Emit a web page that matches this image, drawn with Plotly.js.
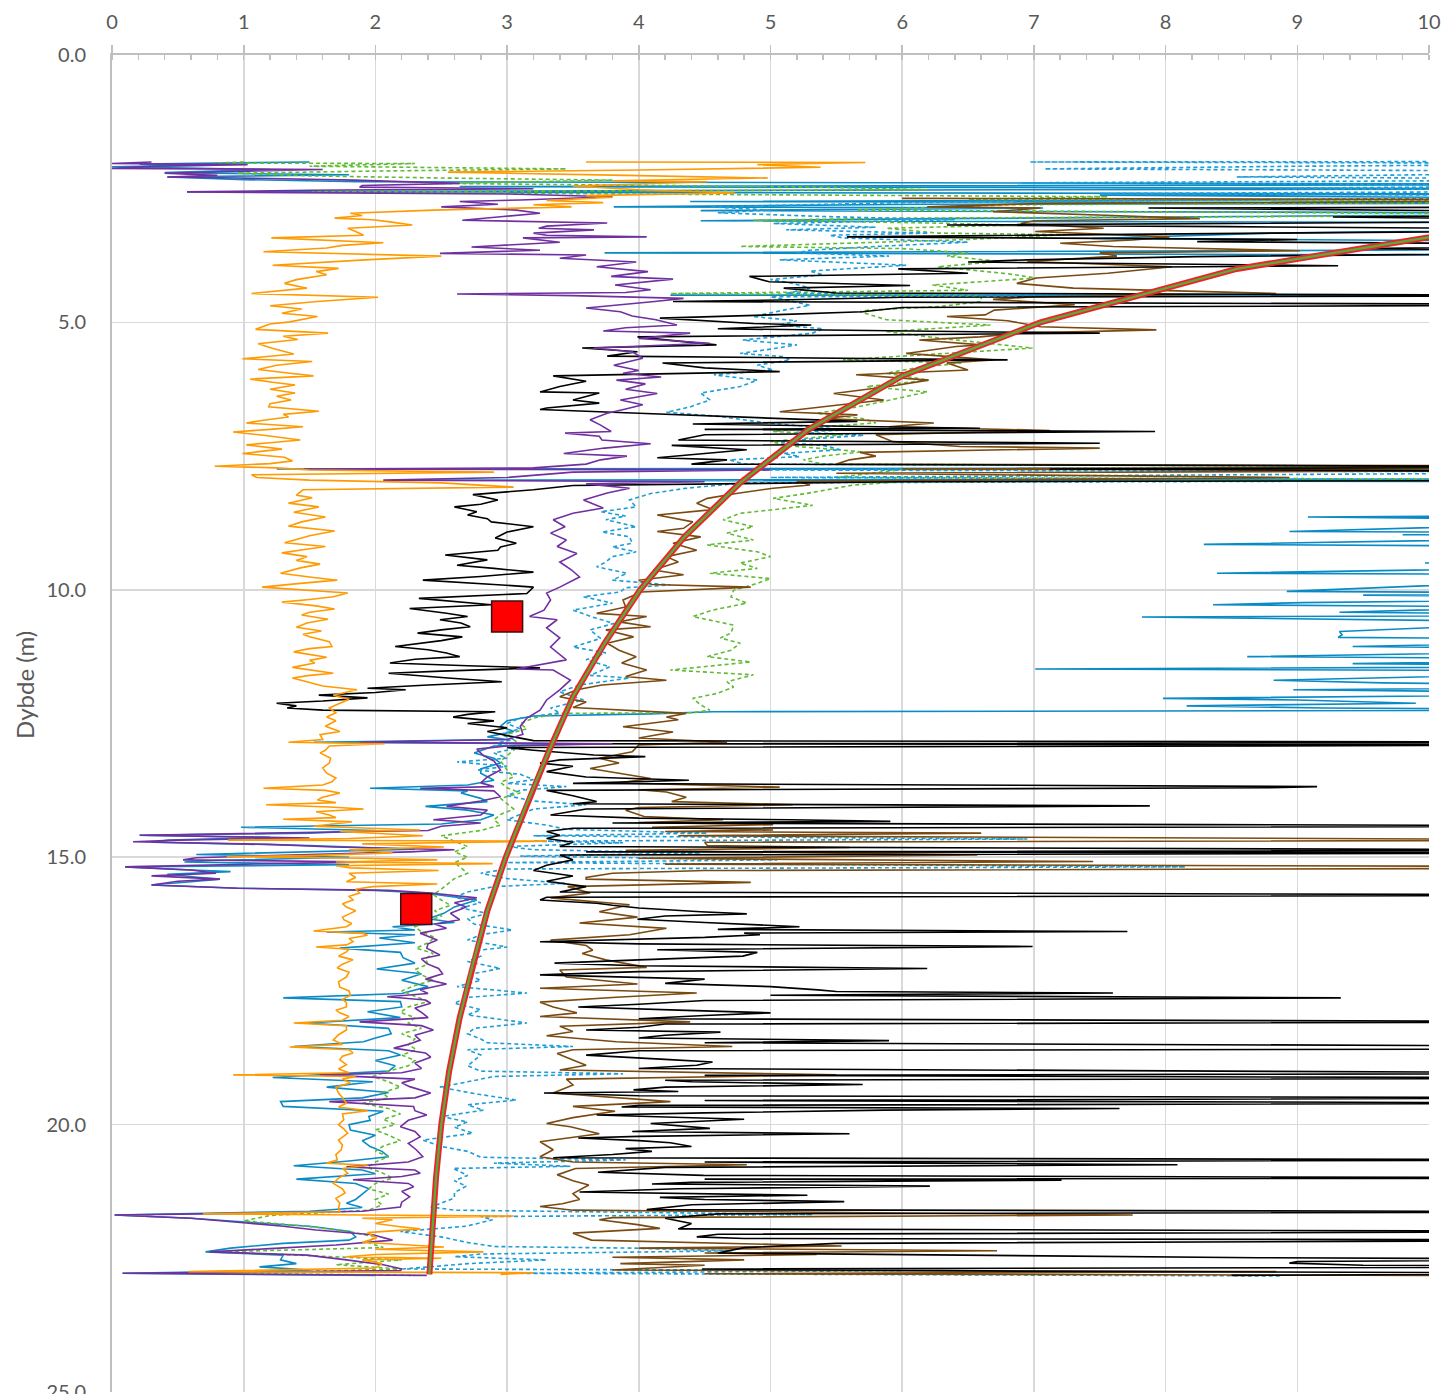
<!DOCTYPE html>
<html>
<head>
<meta charset="utf-8">
<script src="https://cdn.plot.ly/plotly-3.0.1.min.js"></script>
<style>html,body{margin:0;padding:0;background:#fff;}#chart{width:1441px;height:1394px;}</style>
</head>
<body>
<div id="chart"></div>
<script>
// ---- DATA: [depth (m), value] pairs ----
const orangeSeries = [[2.0,3.6],[2.01,5.72],[2.05,4.9],[2.1,5.38],[2.15,4.0],[2.19,2.55],[2.25,3.9],[2.3,4.98],[2.35,3.8],[2.37,4.52],[2.45,3.5],[2.52,4.0],[2.58,4.73],[2.63,3.6],[2.66,3.8],[2.72,3.3],[2.76,3.73],[2.8,3.2],[2.84,3.49],[2.9,2.44],[2.96,1.81],[3.0,1.9],[3.05,1.69],[3.08,1.98],[3.12,2.11],[3.18,2.28],[3.24,1.79],[3.3,1.85],[3.37,1.91],[3.42,1.21],[3.51,2.06],[3.56,1.75],[3.61,1.63],[3.68,1.15],[3.76,2.5],[3.83,1.92],[3.93,1.22],[3.99,1.72],[4.05,1.55],[4.11,1.63],[4.2,1.4],[4.27,1.31],[4.36,1.48],[4.46,1.06],[4.53,2.02],[4.61,1.56],[4.69,1.2],[4.75,1.44],[4.83,1.29],[4.89,1.56],[4.99,1.35],[5.03,1.2],[5.13,1.09],[5.2,1.64],[5.26,1.3],[5.32,1.41],[5.4,1.11],[5.48,1.21],[5.59,1.38],[5.68,0.99],[5.73,1.52],[5.8,1.25],[5.88,1.11],[5.95,1.35],[6.0,1.53],[6.06,1.05],[6.12,1.22],[6.17,1.39],[6.25,1.2],[6.32,1.39],[6.38,1.25],[6.45,1.36],[6.52,1.2],[6.58,1.19],[6.66,1.57],[6.72,1.3],[6.77,1.34],[6.83,1.15],[6.88,1.02],[6.95,1.45],[7.0,1.2],[7.05,0.92],[7.11,1.15],[7.2,1.43],[7.25,1.2],[7.29,1.02],[7.37,1.29],[7.45,0.99],[7.52,1.31],[7.59,1.37],[7.64,1.2],[7.69,0.78],[7.72,1.25],[7.76,1.5],[7.8,2.9],[7.85,1.06],[7.9,1.1],[7.95,1.5],[8.0,2.5],[8.08,3.05],[8.13,1.45],[8.23,1.4],[8.28,1.52],[8.38,1.34],[8.45,1.57],[8.55,1.38],[8.64,1.62],[8.73,1.44],[8.81,1.34],[8.9,1.69],[8.99,1.5],[9.06,1.4],[9.12,1.31],[9.19,1.62],[9.25,1.45],[9.31,1.29],[9.38,1.48],[9.45,1.4],[9.52,1.58],[9.59,1.43],[9.69,1.28],[9.76,1.5],[9.82,1.71],[9.88,1.43],[9.95,1.14],[10.06,1.79],[10.13,1.68],[10.18,1.5],[10.23,1.29],[10.3,1.55],[10.36,1.69],[10.42,1.5],[10.47,1.44],[10.55,1.64],[10.62,1.48],[10.7,1.4],[10.77,1.59],[10.83,1.45],[10.88,1.5],[10.97,1.65],[11.06,1.67],[11.1,1.5],[11.16,1.38],[11.26,1.63],[11.32,1.5],[11.37,1.54],[11.45,1.37],[11.56,1.68],[11.6,1.5],[11.65,1.37],[11.72,1.48],[11.8,1.6],[11.87,1.86],[11.97,1.68],[12.05,1.8],[12.12,1.73],[12.21,1.65],[12.3,1.7],[12.38,1.63],[12.45,1.7],[12.55,1.62],[12.65,1.73],[12.71,1.58],[12.8,1.6],[12.85,1.34],[12.88,2.07],[12.92,1.65],[13.0,1.62],[13.05,1.58],[13.15,1.66],[13.24,1.65],[13.33,1.6],[13.43,1.63],[13.52,1.7],[13.59,1.67],[13.65,1.6],[13.71,1.15],[13.75,1.62],[13.8,1.73],[13.88,1.6],[13.93,1.56],[13.98,1.7],[14.02,1.17],[14.06,1.65],[14.1,1.91],[14.15,1.55],[14.21,1.65],[14.26,1.7],[14.29,1.3],[14.34,1.82],[14.42,1.53],[14.49,2.34],[14.52,1.73],[14.6,2.36],[14.65,1.8],[14.68,0.88],[14.7,3.3],[14.75,1.9],[14.81,2.52],[14.86,1.8],[14.92,2.13],[14.97,1.5],[14.99,0.87],[15.02,1.9],[15.05,2.47],[15.09,1.7],[15.12,2.89],[15.16,1.7],[15.2,1.81],[15.25,2.48],[15.3,1.8],[15.38,1.85],[15.46,1.78],[15.5,2.47],[15.55,1.98],[15.6,1.85],[15.67,1.88],[15.73,1.8],[15.8,1.83],[15.87,1.75],[15.93,1.78],[16.0,1.85],[16.05,1.81],[16.12,1.75],[16.17,1.76],[16.24,1.82],[16.3,1.78],[16.38,1.53],[16.42,1.9],[16.46,1.94],[16.52,1.8],[16.58,1.83],[16.64,1.78],[16.68,1.55],[16.72,1.8],[16.77,1.78],[16.85,1.72],[16.92,1.83],[17.0,1.75],[17.07,1.71],[17.15,1.8],[17.24,1.78],[17.33,1.72],[17.43,1.73],[17.5,1.8],[17.58,1.81],[17.66,1.75],[17.72,1.78],[17.8,1.78],[17.86,1.7],[17.91,1.73],[17.98,1.8],[18.05,1.75],[18.1,1.38],[18.15,1.78],[18.23,1.78],[18.32,1.72],[18.42,1.68],[18.5,1.75],[18.55,1.35],[18.6,1.8],[18.66,1.83],[18.72,1.75],[18.79,1.73],[18.88,1.78],[18.96,1.72],[19.03,1.8],[19.07,0.92],[19.1,1.85],[19.15,1.75],[19.22,1.81],[19.3,1.7],[19.41,1.72],[19.5,1.75],[19.6,1.78],[19.67,1.72],[19.74,1.94],[19.8,1.75],[19.91,1.76],[20.0,1.72],[20.08,1.76],[20.16,1.79],[20.29,1.72],[20.38,1.75],[20.47,1.74],[20.56,1.7],[20.66,1.71],[20.72,1.63],[20.76,1.94],[20.82,1.75],[20.91,1.79],[21.0,1.72],[21.1,1.68],[21.2,1.75],[21.28,1.77],[21.38,1.7],[21.47,1.73],[21.56,1.72],[21.63,1.73],[21.67,0.69],[21.71,3.05],[21.75,1.9],[21.78,2.13],[21.85,2.0],[21.91,2.19],[21.95,2.34],[22.02,1.94],[22.12,2.01],[22.2,1.9],[22.29,2.52],[22.33,2.0],[22.38,2.82],[22.43,2.0],[22.47,1.78],[22.5,2.5],[22.53,1.9],[22.6,2.05],[22.68,2.0],[22.75,0.58],[22.77,3.2],[22.8,2.95]];

const purpleSeries = [[2.0,0.3],[2.03,0.0],[2.05,1.03],[2.08,0.3],[2.12,0.0],[2.14,1.6],[2.18,0.9],[2.21,0.4],[2.25,0.8],[2.28,0.42],[2.3,0.95],[2.34,1.83],[2.4,2.64],[2.44,1.9],[2.47,1.88],[2.5,3.2],[2.53,1.5],[2.56,0.57],[2.6,3.0],[2.65,3.8],[2.71,3.1],[2.74,2.64],[2.79,2.93],[2.84,2.5],[2.9,3.07],[2.96,3.25],[3.02,2.97],[3.09,2.66],[3.14,3.76],[3.2,3.3],[3.24,3.24],[3.27,3.66],[3.33,3.2],[3.37,3.3],[3.4,4.06],[3.42,3.12],[3.5,3.4],[3.59,2.73],[3.65,3.25],[3.71,2.49],[3.74,3.6],[3.8,3.4],[3.87,3.98],[3.96,3.68],[4.05,4.07],[4.14,3.79],[4.19,4.26],[4.3,3.82],[4.39,4.09],[4.44,3.9],[4.47,2.62],[4.5,3.5],[4.55,4.34],[4.61,4.12],[4.73,3.6],[4.8,3.86],[4.88,3.95],[4.95,4.13],[5.05,4.29],[5.1,3.9],[5.16,3.73],[5.2,4.39],[5.3,4.0],[5.39,4.54],[5.48,3.66],[5.55,3.95],[5.67,4.03],[5.8,3.81],[5.9,4.0],[5.95,3.88],[6.02,4.17],[6.08,3.83],[6.15,4.05],[6.25,3.9],[6.33,4.14],[6.45,3.86],[6.54,4.03],[6.62,3.9],[6.7,3.76],[6.82,3.63],[6.92,3.71],[7.04,3.79],[7.07,3.44],[7.13,3.7],[7.2,3.72],[7.27,4.09],[7.35,3.74],[7.45,3.43],[7.5,3.91],[7.57,3.71],[7.65,3.6],[7.72,3.2],[7.74,1.46],[7.76,5.0],[7.8,3.5],[7.9,3.0],[7.95,2.06],[7.98,4.5],[8.02,3.6],[8.1,3.93],[8.19,3.76],[8.32,3.58],[8.47,3.73],[8.57,3.5],[8.69,3.35],[8.82,3.44],[8.94,3.33],[9.07,3.45],[9.19,3.38],[9.32,3.53],[9.48,3.4],[9.63,3.49],[9.76,3.55],[9.95,3.4],[10.06,3.3],[10.19,3.33],[10.38,3.28],[10.5,3.17],[10.56,3.38],[10.71,3.3],[10.9,3.4],[11.07,3.33],[11.31,3.45],[11.48,3.07],[11.5,3.35],[11.69,3.48],[11.87,3.4],[12.06,3.3],[12.25,3.25],[12.4,3.15],[12.55,3.1],[12.7,3.12],[12.8,3.0],[12.85,1.88],[12.88,3.8],[12.92,3.0],[12.98,2.77],[13.1,2.82],[13.2,2.9],[13.37,2.95],[13.5,2.85],[13.61,2.8],[13.68,2.9],[13.71,2.34],[13.76,2.9],[13.87,2.95],[13.95,2.8],[14.05,2.54],[14.12,2.85],[14.21,2.8],[14.3,2.44],[14.36,2.8],[14.42,2.5],[14.5,2.4],[14.52,1.91],[14.59,0.21],[14.64,1.5],[14.68,0.5],[14.71,0.16],[14.76,1.2],[14.81,1.68],[14.86,2.6],[14.9,2.26],[14.95,1.5],[15.01,0.64],[15.05,0.54],[15.09,2.0],[15.12,1.2],[15.18,0.1],[15.24,0.6],[15.3,0.79],[15.35,0.3],[15.41,0.82],[15.45,0.5],[15.52,0.3],[15.58,0.95],[15.62,2.1],[15.67,2.42],[15.76,2.77],[15.85,2.6],[15.93,2.69],[16.05,2.57],[16.17,2.64],[16.25,2.45],[16.33,2.54],[16.42,2.34],[16.55,2.47],[16.62,2.4],[16.7,2.39],[16.83,2.49],[16.9,2.35],[16.99,2.39],[17.08,2.48],[17.18,2.51],[17.28,2.38],[17.37,2.54],[17.48,2.34],[17.55,2.4],[17.61,2.09],[17.67,2.38],[17.73,2.42],[17.82,2.3],[17.92,2.36],[18.0,2.4],[18.08,1.88],[18.15,2.35],[18.23,2.44],[18.33,2.3],[18.42,2.34],[18.5,2.25],[18.57,2.14],[18.66,2.38],[18.74,2.42],[18.85,2.3],[18.95,2.35],[19.03,2.2],[19.07,1.58],[19.15,2.3],[19.22,2.2],[19.29,2.26],[19.41,2.42],[19.5,2.3],[19.57,1.65],[19.66,2.29],[19.74,2.3],[19.82,2.39],[19.92,2.25],[20.04,2.19],[20.13,2.3],[20.23,2.34],[20.35,2.25],[20.47,2.31],[20.6,2.36],[20.7,2.25],[20.79,1.78],[20.85,2.3],[20.91,2.34],[20.97,2.2],[21.03,1.83],[21.1,2.25],[21.16,2.29],[21.25,2.2],[21.35,2.26],[21.45,2.2],[21.54,2.19],[21.62,1.9],[21.66,1.0],[21.69,0.02],[21.75,0.6],[21.84,1.02],[21.9,1.3],[21.97,1.55],[22.06,1.98],[22.16,2.13],[22.25,1.7],[22.32,1.2],[22.38,0.74],[22.44,1.48],[22.53,1.78],[22.62,2.06],[22.7,2.2],[22.73,2.19],[22.78,0.08],[22.82,2.39]];

const blackSeries = [[2.84,12],[2.86,7.87],[2.92,10.5],[2.97,12],[3.03,9.27],[3.1,12],[3.18,6.34],[3.21,8.47],[3.27,12],[3.33,8.79],[3.4,5.58],[3.45,9.0],[3.49,8.24],[3.55,12],[3.62,9.5],[3.68,12],[3.77,8.22],[3.83,6.95],[3.87,6.5],[3.94,9.31],[4.0,5.97],[4.08,6.5],[4.14,4.84],[4.24,4.99],[4.31,6.06],[4.36,5.1],[4.45,5.5],[4.5,12],[4.53,6.0],[4.58,5.07],[4.61,4.26],[4.67,12],[4.72,6.0],[4.8,5.7],[4.86,5.0],[4.92,4.16],[5.02,4.87],[5.05,5.31],[5.12,4.6],[5.2,7.5],[5.27,3.99],[5.35,4.3],[5.42,4.59],[5.48,3.57],[5.55,3.99],[5.63,3.76],[5.7,6.8],[5.76,4.18],[5.85,4.5],[5.92,5.07],[6.0,3.35],[6.1,3.6],[6.2,3.4],[6.3,3.25],[6.32,3.7],[6.45,3.5],[6.51,3.7],[6.6,3.3],[6.63,3.25],[6.7,4.0],[6.85,5.66],[6.9,4.41],[6.98,6.59],[7.0,4.5],[7.04,7.92],[7.1,4.5],[7.2,4.3],[7.26,7.5],[7.3,4.25],[7.38,4.82],[7.45,4.5],[7.53,4.14],[7.57,4.67],[7.65,4.4],[7.7,12],[7.74,7.12],[7.8,12],[7.95,12],[7.98,6.0],[8.05,3.5],[8.13,3.2],[8.22,2.74],[8.32,2.93],[8.4,2.8],[8.45,2.6],[8.54,2.77],[8.6,2.7],[8.67,2.85],[8.73,2.88],[8.82,3.2],[8.92,3.0],[9.03,2.91],[9.13,3.07],[9.2,2.95],[9.26,2.93],[9.35,2.53],[9.44,2.85],[9.54,2.62],[9.6,2.9],[9.67,3.2],[9.75,2.8],[9.82,2.36],[9.9,2.9],[9.95,3.2],[10.07,3.15],[10.16,2.33],[10.28,2.88],[10.35,2.26],[10.44,2.54],[10.5,2.7],[10.56,2.49],[10.62,2.65],[10.69,2.72],[10.75,2.5],[10.81,2.32],[10.88,2.66],[10.95,2.5],[11.06,2.15],[11.12,2.4],[11.18,2.54],[11.25,2.64],[11.3,2.3],[11.37,2.11],[11.42,2.7],[11.46,3.25],[11.52,2.5],[11.56,2.1],[11.65,2.55],[11.72,2.96],[11.78,2.4],[11.84,1.94],[11.87,2.23],[11.92,2.0],[11.97,1.57],[12.02,1.94],[12.08,1.6],[12.12,1.25],[12.17,1.4],[12.21,1.33],[12.25,1.6],[12.28,2.91],[12.33,2.7],[12.38,2.59],[12.45,2.9],[12.5,2.7],[12.58,3.0],[12.65,2.85],[12.75,3.05],[12.82,3.2],[12.85,12],[12.88,3.5],[12.9,12],[12.95,3.0],[13.0,3.2],[13.09,3.66],[13.12,4.05],[13.18,3.4],[13.24,3.25],[13.3,3.5],[13.4,3.3],[13.5,3.6],[13.56,4.38],[13.62,3.5],[13.68,9.15],[13.7,8.78],[13.75,3.3],[13.85,3.5],[13.96,3.68],[14.0,3.5],[14.04,7.88],[14.1,3.6],[14.21,3.33],[14.27,4.0],[14.3,5.15],[14.33,5.91],[14.36,3.8],[14.39,8.26],[14.42,12],[14.46,3.5],[14.52,3.3],[14.59,3.4],[14.65,3.3],[14.72,3.5],[14.8,3.4],[14.87,12],[14.9,3.6],[14.92,12],[14.96,3.4],[15.05,3.5],[15.15,3.3],[15.25,3.2],[15.35,3.5],[15.45,3.3],[15.55,3.6],[15.65,3.4],[15.71,12],[15.75,3.3],[15.8,3.25],[15.86,3.68],[15.9,3.8],[15.95,4.0],[16.02,4.47],[16.06,4.82],[16.1,4.2],[16.16,3.99],[16.22,4.5],[16.3,5.22],[16.35,4.6],[16.39,7.71],[16.42,4.8],[16.45,4.92],[16.5,4.5],[16.58,3.25],[16.62,4.0],[16.67,6.99],[16.73,4.14],[16.78,4.9],[16.85,4.79],[16.92,4.0],[16.98,3.36],[17.03,4.0],[17.08,6.19],[17.14,4.0],[17.2,3.25],[17.28,4.5],[17.36,4.2],[17.42,5.0],[17.48,5.36],[17.51,5.5],[17.54,7.6],[17.58,5.0],[17.63,9.33],[17.68,4.5],[17.75,4.0],[17.8,3.54],[17.86,4.3],[17.91,5.0],[17.96,4.5],[18.02,4.0],[18.08,12],[18.12,4.2],[18.18,4.0],[18.23,3.6],[18.27,4.62],[18.33,4.2],[18.38,4.0],[18.43,5.9],[18.47,4.5],[18.54,12],[18.58,12],[18.62,4.0],[18.7,3.6],[18.78,4.2],[18.83,4.56],[18.89,4.44],[18.95,4.0],[19.04,12],[19.08,4.5],[19.13,12],[19.17,4.2],[19.2,4.4],[19.25,5.7],[19.3,4.2],[19.35,3.96],[19.38,4.3],[19.41,3.28],[19.46,4.0],[19.5,12],[19.55,4.5],[19.6,12],[19.64,4.0],[19.67,3.87],[19.7,7.65],[19.73,5.86],[19.78,4.5],[19.82,3.68],[19.9,4.8],[19.98,4.09],[20.07,4.54],[20.13,3.95],[20.17,5.6],[20.22,4.0],[20.25,3.54],[20.3,4.0],[20.34,4.24],[20.41,4.4],[20.45,3.9],[20.5,4.1],[20.56,3.8],[20.62,3.35],[20.66,12],[20.7,4.5],[20.75,8.09],[20.8,4.2],[20.89,3.69],[20.95,4.49],[21.0,12],[21.02,4.5],[21.04,7.21],[21.08,4.4],[21.11,4.1],[21.15,6.21],[21.2,4.3],[21.26,3.55],[21.32,5.28],[21.36,4.16],[21.4,4.5],[21.44,5.56],[21.5,4.4],[21.59,4.06],[21.63,12],[21.67,4.6],[21.75,4.2],[21.85,4.4],[21.95,4.3],[22.0,12],[22.05,4.6],[22.1,4.44],[22.13,4.8],[22.16,12],[22.22,5.5],[22.3,4.8],[22.4,4.6],[22.49,8.7],[22.52,12],[22.56,9.0],[22.59,8.94],[22.63,9.5],[22.66,12],[22.7,4.48],[22.74,6.88],[22.78,12],[22.82,8.5]];

const blueDashSeries = [[1.99,12],[2.0,6.97],[2.03,12],[2.08,9.0],[2.13,7.08],[2.18,12],[2.28,8.54],[2.33,12],[2.39,6.9],[2.44,12],[2.49,8.74],[2.54,12],[2.59,7.5],[2.64,12],[2.7,9.0],[2.76,6.0],[2.84,4.54],[2.9,5.0],[2.95,4.6],[3.02,5.4],[3.08,6.4],[3.15,5.02],[3.22,5.8],[3.27,5.12],[3.33,6.2],[3.37,5.45],[3.42,5.55],[3.5,6.5],[3.58,5.8],[3.65,5.3],[3.7,5.2],[3.76,5.9],[3.83,5.07],[3.93,6.03],[4.04,5.3],[4.11,5.4],[4.2,5.0],[4.27,5.17],[4.36,5.3],[4.46,5.12],[4.5,9.0],[4.52,5.0],[4.58,5.12],[4.68,5.3],[4.77,5.1],[4.89,4.87],[4.97,5.2],[5.05,5.07],[5.12,5.4],[5.2,5.32],[5.28,5.0],[5.33,4.79],[5.42,5.2],[5.5,5.0],[5.58,4.77],[5.64,5.1],[5.7,5.15],[5.8,4.9],[5.89,5.02],[5.98,4.57],[6.08,4.9],[6.2,4.77],[6.32,4.47],[6.45,4.54],[6.58,4.39],[6.68,4.21],[6.76,4.62],[6.88,4.97],[6.95,5.3],[7.01,5.58],[7.05,5.2],[7.11,5.71],[7.18,5.3],[7.24,5.07],[7.3,5.4],[7.38,5.53],[7.45,5.1],[7.51,5.22],[7.57,4.69],[7.65,4.8],[7.7,12],[7.72,7.98],[7.76,5.0],[7.8,12],[7.9,5.0],[7.95,12],[8.0,4.8],[8.1,4.36],[8.2,4.09],[8.32,3.93],[8.45,3.98],[8.54,3.71],[8.62,3.9],[8.69,3.75],[8.82,3.98],[8.92,3.72],[9.01,3.93],[9.13,3.95],[9.2,3.8],[9.29,3.98],[9.38,3.8],[9.48,3.75],[9.57,3.68],[9.69,3.91],[9.82,3.8],[9.91,4.24],[9.96,3.9],[10.04,3.86],[10.13,3.58],[10.25,3.8],[10.38,3.5],[10.51,3.65],[10.63,3.81],[10.75,3.63],[10.91,3.71],[11.07,3.5],[11.18,3.75],[11.31,3.6],[11.44,3.78],[11.6,3.63],[11.65,3.93],[11.78,3.55],[11.91,3.4],[12.06,3.58],[12.21,3.33],[12.3,3.4],[12.4,3.1],[12.5,3.0],[12.6,3.1],[12.7,2.95],[12.8,3.05],[12.87,2.9],[12.95,3.1],[13.05,2.9],[13.15,3.0],[13.22,2.62],[13.3,3.0],[13.37,2.77],[13.45,3.1],[13.55,3.2],[13.62,3.0],[13.68,3.45],[13.75,3.1],[13.85,3.0],[13.95,3.2],[14.02,3.6],[14.1,3.2],[14.2,3.1],[14.3,3.0],[14.4,3.3],[14.48,3.45],[14.55,4.52],[14.6,3.2],[14.66,6.95],[14.7,3.2],[14.73,3.88],[14.8,3.0],[14.86,3.2],[14.92,4.47],[14.98,3.1],[15.05,5.05],[15.1,3.0],[15.18,8.15],[15.22,3.0],[15.3,2.8],[15.4,3.0],[15.49,3.44],[15.55,2.9],[15.65,2.7],[15.75,2.6],[15.85,2.8],[15.95,2.65],[16.05,2.85],[16.15,2.7],[16.25,2.75],[16.36,3.04],[16.45,2.8],[16.55,2.7],[16.68,3.0],[16.75,2.75],[16.85,2.8],[16.95,2.7],[17.08,2.95],[17.2,2.7],[17.3,2.8],[17.42,2.62],[17.54,3.15],[17.62,2.7],[17.73,2.6],[17.85,2.8],[17.95,2.7],[18.1,3.15],[18.2,2.75],[18.3,2.7],[18.4,2.8],[18.47,2.85],[18.54,3.5],[18.6,2.7],[18.7,2.8],[18.8,2.75],[18.9,2.7],[19.0,2.8],[19.05,3.88],[19.1,2.9],[19.2,2.7],[19.3,2.49],[19.42,2.75],[19.54,3.07],[19.63,2.7],[19.73,2.82],[19.85,2.5],[19.95,2.7],[20.05,2.6],[20.16,2.74],[20.29,2.36],[20.41,2.5],[20.5,2.7],[20.61,2.8],[20.66,3.9],[20.72,2.9],[20.78,3.48],[20.82,2.59],[20.95,2.7],[21.05,2.6],[21.15,2.69],[21.27,2.6],[21.37,2.6],[21.47,2.5],[21.54,2.42],[21.6,2.6],[21.68,5.32],[21.72,2.8],[21.78,2.89],[21.9,2.69],[22.0,2.19],[22.1,2.5],[22.2,2.69],[22.28,2.9],[22.31,3.96],[22.36,4.71],[22.42,2.8],[22.47,2.6],[22.53,3.3],[22.6,2.7],[22.7,2.21],[22.73,6.0],[22.78,3.0],[22.83,8.87]];

const brownSeries = [[2.68,6.0],[2.71,12],[2.78,7.0],[2.84,6.19],[2.86,7.05],[2.93,6.69],[3.0,7.6],[3.06,8.26],[3.1,7.0],[3.15,6.9],[3.24,7.53],[3.3,7.01],[3.4,8.03],[3.46,7.75],[3.52,7.2],[3.58,7.6],[3.66,9.02],[3.7,7.5],[3.76,7.63],[3.86,6.95],[3.96,8.05],[4.08,7.56],[4.17,7.02],[4.27,6.87],[4.36,7.3],[4.46,8.84],[4.52,7.0],[4.57,6.69],[4.67,7.31],[4.77,6.7],[4.86,6.63],[4.89,6.34],[4.97,6.8],[5.08,7.05],[5.14,7.93],[5.2,6.9],[5.27,6.59],[5.33,6.13],[5.42,6.6],[5.45,6.41],[5.58,6.03],[5.7,6.69],[5.76,6.34],[5.89,6.5],[5.98,5.65],[6.08,6.2],[6.2,5.9],[6.33,5.48],[6.45,5.86],[6.55,5.5],[6.67,5.07],[6.73,5.66],[6.8,5.4],[6.88,6.24],[6.95,5.9],[7.02,7.12],[7.1,5.8],[7.23,5.93],[7.32,6.44],[7.35,7.5],[7.43,5.68],[7.5,5.8],[7.57,5.6],[7.65,5.5],[7.69,12],[7.74,6.0],[7.76,12],[7.82,5.5],[7.9,8.94],[7.93,7.45],[7.97,5.2],[8.04,5.3],[8.1,5.02],[8.2,4.74],[8.29,4.52],[8.38,4.44],[8.5,4.56],[8.6,4.14],[8.73,4.41],[8.85,4.34],[8.91,4.14],[9.01,4.47],[9.13,4.26],[9.26,4.44],[9.38,4.21],[9.48,4.3],[9.63,4.11],[9.72,4.34],[9.82,4.0],[9.9,4.1],[9.95,4.85],[10.04,4.02],[10.19,3.88],[10.32,3.9],[10.44,3.68],[10.5,4.06],[10.6,3.85],[10.69,4.09],[10.75,3.75],[10.88,3.96],[11.0,3.76],[11.13,3.85],[11.25,3.98],[11.37,3.87],[11.5,4.06],[11.62,3.9],[11.69,4.21],[11.78,3.72],[11.87,3.53],[12.0,3.4],[12.1,3.6],[12.2,3.5],[12.31,4.36],[12.38,4.21],[12.43,4.3],[12.56,3.88],[12.66,4.26],[12.77,4.0],[12.85,4.67],[12.9,4.0],[13.03,3.95],[13.15,3.7],[13.24,3.85],[13.34,3.63],[13.43,3.85],[13.53,4.09],[13.61,3.85],[13.69,5.07],[13.74,4.0],[13.78,4.21],[13.88,4.36],[13.96,4.25],[14.02,5.17],[14.07,4.0],[14.12,3.9],[14.24,4.04],[14.3,4.64],[14.35,4.0],[14.39,5.02],[14.44,4.1],[14.49,5.02],[14.52,4.2],[14.55,6.6],[14.6,4.3],[14.68,12],[14.72,4.5],[14.78,4.52],[14.82,5.6],[14.87,3.9],[14.96,6.57],[15.02,4.0],[15.08,7.45],[15.13,4.2],[15.18,12],[15.2,12],[15.25,4.5],[15.3,3.8],[15.38,3.6],[15.41,3.6],[15.47,4.85],[15.55,3.46],[15.67,3.63],[15.76,3.33],[15.89,3.93],[16.02,3.7],[16.12,3.99],[16.23,3.55],[16.33,4.21],[16.45,3.93],[16.55,3.33],[16.65,3.6],[16.74,3.65],[16.8,3.57],[16.92,3.75],[17.06,4.06],[17.11,3.4],[17.24,3.45],[17.37,3.99],[17.45,3.25],[17.54,4.44],[17.62,3.83],[17.71,3.25],[17.8,3.35],[17.91,3.53],[17.98,3.25],[18.08,4.39],[18.16,3.4],[18.26,3.5],[18.34,3.3],[18.45,3.83],[18.54,4.71],[18.6,3.5],[18.67,3.38],[18.79,3.5],[18.89,3.6],[18.98,3.4],[19.07,5.5],[19.15,3.45],[19.26,3.5],[19.41,3.35],[19.57,4.24],[19.66,3.5],[19.75,3.82],[19.87,3.5],[19.98,3.3],[20.04,3.48],[20.17,3.7],[20.32,3.25],[20.47,3.35],[20.6,3.25],[20.7,3.5],[20.75,4.82],[20.82,3.52],[20.94,3.38],[21.05,3.5],[21.13,3.62],[21.29,3.5],[21.4,3.55],[21.48,3.42],[21.53,3.25],[21.6,3.5],[21.69,7.75],[21.74,3.8],[21.78,3.7],[21.87,3.99],[21.94,4.16],[22.03,3.5],[22.16,3.64],[22.27,5.54],[22.31,4.0],[22.36,6.72],[22.4,4.5],[22.43,5.35],[22.48,3.8],[22.53,4.8],[22.6,3.86],[22.63,4.5],[22.72,3.8],[22.75,8.84],[22.79,4.5],[22.83,12]];

const greenDashSeries = [[2.0,1.0],[2.02,0.77],[2.03,2.3],[2.08,1.5],[2.13,3.45],[2.17,2.0],[2.21,0.95],[2.26,1.5],[2.3,2.5],[2.34,3.8],[2.4,2.5],[2.47,5.38],[2.52,6.19],[2.56,1.52],[2.6,4.0],[2.65,7.56],[2.7,6.5],[2.74,12],[2.8,6.8],[2.9,5.65],[2.99,12],[3.05,6.0],[3.09,4.87],[3.14,6.2],[3.18,6.87],[3.24,5.88],[3.33,6.27],[3.36,7.24],[3.45,6.5],[3.58,4.77],[3.62,6.0],[3.7,6.5],[3.76,6.34],[3.86,6.74],[3.96,6.27],[4.09,6.8],[4.17,7.02],[4.3,6.23],[4.4,6.5],[4.46,4.24],[4.5,6.6],[4.61,6.6],[4.7,6.3],[4.77,5.75],[4.8,5.68],[4.95,5.88],[5.05,6.67],[5.17,5.88],[5.3,6.3],[5.48,6.99],[5.6,6.2],[5.7,5.55],[5.76,6.45],[5.85,6.1],[5.95,5.88],[6.08,6.2],[6.2,5.73],[6.3,6.19],[6.45,5.91],[6.58,5.66],[6.7,5.35],[6.8,5.7],[6.88,5.8],[6.95,5.4],[7.04,5.02],[7.1,5.55],[7.23,5.0],[7.32,5.2],[7.42,5.7],[7.5,5.4],[7.57,5.25],[7.65,5.4],[7.71,12],[7.75,6.0],[7.9,5.5],[7.94,12],[7.98,6.0],[8.04,5.63],[8.2,5.27],[8.29,5.02],[8.42,5.32],[8.48,5.1],[8.57,4.77],[8.69,4.64],[8.82,4.87],[8.94,4.67],[9.07,4.87],[9.16,4.52],[9.29,4.9],[9.38,5.0],[9.5,4.77],[9.6,4.9],[9.69,4.54],[9.79,5.0],[9.88,4.9],[10.01,4.72],[10.13,4.7],[10.25,4.82],[10.38,4.56],[10.5,4.41],[10.66,4.72],[10.81,4.7],[10.9,4.62],[11.0,4.77],[11.13,4.7],[11.25,4.52],[11.35,4.85],[11.5,4.24],[11.59,4.87],[11.72,4.67],[11.82,4.72],[11.94,4.59],[12.03,4.41],[12.15,4.47],[12.25,4.54],[12.3,4.4],[12.31,3.4],[12.4,3.2],[12.5,3.1],[12.6,3.15],[12.7,3.0],[12.8,3.05],[12.9,3.1],[13.0,3.05],[13.1,3.0],[13.2,2.95],[13.37,3.0],[13.5,3.05],[13.6,2.95],[13.7,3.0],[13.8,3.1],[13.9,2.95],[14.0,3.0],[14.1,3.05],[14.2,2.95],[14.3,2.9],[14.4,2.95],[14.5,2.8],[14.6,2.5],[14.7,2.6],[14.8,2.7],[14.9,2.6],[15.0,2.7],[15.1,2.6],[15.2,2.65],[15.3,2.7],[15.4,2.6],[15.5,2.55],[15.6,2.5],[15.7,2.44],[15.8,2.5],[15.9,2.57],[16.0,2.45],[16.1,2.5],[16.2,2.4],[16.3,2.3],[16.4,2.35],[16.5,2.45],[16.6,2.4],[16.7,2.31],[16.8,2.44],[16.9,2.38],[17.0,2.4],[17.1,2.3],[17.2,2.35],[17.3,2.44],[17.4,2.3],[17.5,2.2],[17.6,2.3],[17.7,2.4],[17.8,2.25],[17.9,2.19],[18.0,2.3],[18.1,2.25],[18.2,2.35],[18.3,2.2],[18.4,2.3],[18.5,2.25],[18.6,2.31],[18.7,2.2],[18.8,2.3],[18.9,2.25],[19.0,2.1],[19.1,1.98],[19.2,2.1],[19.3,2.19],[19.4,2.05],[19.5,2.1],[19.6,1.9],[19.7,2.1],[19.8,2.19],[19.9,2.06],[20.0,2.15],[20.1,2.0],[20.2,2.1],[20.3,2.19],[20.4,2.06],[20.5,2.0],[20.6,2.1],[20.7,2.0],[20.8,1.94],[20.9,2.05],[21.0,2.13],[21.1,2.0],[21.2,1.95],[21.3,2.1],[21.4,2.0],[21.5,2.05],[21.6,1.95],[21.7,1.2],[21.8,1.0],[21.9,1.48],[22.0,1.8],[22.1,2.0],[22.2,1.94],[22.3,2.06],[22.38,0.8],[22.45,1.5],[22.53,2.2],[22.62,1.7],[22.7,2.2],[22.78,0.9],[22.82,2.3]];

const blueSeries = [[2.0,1.5],[2.04,0.21],[2.06,0.77],[2.09,0.0],[2.14,1.2],[2.2,0.4],[2.24,1.8],[2.28,0.42],[2.33,1.0],[2.37,1.86],[2.42,12],[2.46,2.64],[2.5,12],[2.52,6.86],[2.56,0.57],[2.6,12],[2.62,7.5],[2.69,12],[2.74,4.39],[2.77,12],[2.79,6.13],[2.84,3.81],[2.86,7.07],[2.91,4.47],[2.96,12],[3.06,6.31],[3.1,4.47],[3.14,12],[3.2,12],[3.24,12],[3.33,8.82],[3.43,7.44],[3.5,12],[3.63,12],[3.7,3.74],[3.75,12],[4.48,12],[4.49,4.24],[4.51,12],[7.72,12],[7.74,1.25],[7.76,12],[7.93,12],[7.95,2.38],[7.98,12],[8.6,12],[8.64,9.08],[8.7,12],[8.91,8.94],[8.94,12],[8.97,9.8],[9.0,12],[9.15,8.29],[9.2,12],[9.5,9.97],[9.55,12],[9.69,8.39],[9.72,12],[10.03,8.92],[10.07,12],[10.1,9.5],[10.16,12],[10.24,9.04],[10.28,8.36],[10.34,12],[10.38,9.91],[10.42,9.32],[10.47,12],[10.51,7.82],[10.58,10.3],[10.66,12],[10.71,10.0],[10.78,9.32],[10.84,9.34],[10.89,9.31],[10.93,12],[11.06,9.42],[11.12,12],[11.25,8.62],[11.3,12],[11.38,9.42],[11.43,12],[11.48,7.01],[11.52,12],[11.69,8.82],[11.74,9.65],[11.81,12],[11.87,8.97],[11.94,12],[12.03,7.98],[12.06,9.0],[12.12,9.9],[12.17,8.16],[12.21,9.2],[12.25,12],[12.28,4.56],[12.32,4.09],[12.36,3.2],[12.45,3.0],[12.55,2.95],[12.65,3.05],[12.75,2.85],[12.8,3.0],[12.85,1.53],[12.88,3.5],[12.92,2.9],[13.05,2.75],[13.15,2.9],[13.24,2.95],[13.35,2.8],[13.43,2.8],[13.56,2.9],[13.65,2.7],[13.71,1.96],[13.76,2.7],[13.8,2.65],[13.9,2.8],[13.96,2.85],[14.05,2.38],[14.12,2.7],[14.21,2.9],[14.3,2.8],[14.38,2.5],[14.44,0.98],[14.5,2.0],[14.55,1.5],[14.59,0.21],[14.63,1.2],[14.68,0.43],[14.72,0.3],[14.78,1.5],[14.85,2.3],[14.95,0.64],[15.0,1.8],[15.06,0.8],[15.09,0.55],[15.14,1.8],[15.18,0.1],[15.22,0.42],[15.27,0.9],[15.32,0.42],[15.38,0.67],[15.41,0.82],[15.46,0.6],[15.52,0.3],[15.58,0.97],[15.62,2.0],[15.67,2.37],[15.8,2.77],[15.93,2.6],[16.05,2.52],[16.15,2.4],[16.22,2.6],[16.3,2.13],[16.36,2.3],[16.4,1.63],[16.45,2.3],[16.51,2.03],[16.6,2.3],[16.7,1.73],[16.78,2.19],[16.88,2.21],[16.98,2.3],[17.09,2.01],[17.18,2.35],[17.3,2.2],[17.42,2.4],[17.55,2.2],[17.63,1.3],[17.7,2.19],[17.8,2.2],[17.89,1.94],[18.0,2.19],[18.1,1.48],[18.2,2.1],[18.3,2.12],[18.38,2.0],[18.45,1.91],[18.54,1.38],[18.62,2.1],[18.7,2.19],[18.8,2.0],[18.9,2.15],[19.0,2.1],[19.05,1.7],[19.12,1.22],[19.2,1.98],[19.3,1.63],[19.4,2.1],[19.5,1.9],[19.57,1.28],[19.66,1.3],[19.75,2.06],[19.85,1.95],[19.92,1.96],[20.0,1.8],[20.1,1.81],[20.2,2.0],[20.3,1.9],[20.41,1.96],[20.5,2.05],[20.6,2.1],[20.68,1.8],[20.77,1.38],[20.85,1.9],[20.92,2.0],[21.02,1.4],[21.1,1.85],[21.2,1.95],[21.3,1.9],[21.4,1.85],[21.47,1.78],[21.55,1.9],[21.62,1.5],[21.69,0.02],[21.75,0.6],[21.84,1.12],[21.9,1.5],[22.0,1.81],[22.1,1.85],[22.16,1.8],[22.22,1.3],[22.31,0.9],[22.38,0.71],[22.44,1.3],[22.53,1.28],[22.6,1.4],[22.66,1.12],[22.72,1.5],[22.78,0.08],[22.82,2.0]];

const curveDepth = [3.0, 4.0, 5.0, 6.0, 7.0, 8.0, 9.0, 10.0, 11.0, 12.0, 13.0, 14.0, 15.0, 16.0, 17.0, 18.0, 19.0, 20.0, 21.0, 22.0, 22.8];
const curveValue = [11.0, 8.54, 7.05, 6.0, 5.29, 4.77, 4.35, 4.01, 3.74, 3.5, 3.32, 3.15, 2.99, 2.85, 2.74, 2.64, 2.56, 2.5, 2.46, 2.43, 2.41];

const squareDepth = [10.5, 15.97];
const squareValue = [3.0, 2.31];

const xTickVals = [0,1,2,3,4,5,6,7,8,9,10];
const yTickVals = [0,5,10,15,20,25];

// ---- build traces ----
function lineTrace(series, color, dash, width) {
  return {
    type: 'scatter', mode: 'lines',
    x: series.map(p => p[1]), y: series.map(p => p[0]),
    line: {color: color, width: width || 1.6, dash: dash || 'solid', simplify: false},
    hoverinfo: 'skip'
  };
}

const traces = [
  lineTrace(blueSeries, '#0B8BC6'),
  lineTrace(greenDashSeries, '#62BB35', '4px,3px', 1.6),
  lineTrace(blueDashSeries, '#1E9DD8', '4px,3px', 1.6),
  lineTrace(brownSeries, '#7A4A10'),
  lineTrace(blackSeries, '#000000'),
  lineTrace(purpleSeries, '#7030A0'),
  lineTrace(orangeSeries, '#FF9A00'),
  {type:'scatter', mode:'lines', x: curveValue, y: curveDepth,
   line:{color:'#EE2229', width:6}, hoverinfo:'skip'},
  {type:'scatter', mode:'lines', x: curveValue, y: curveDepth,
   line:{color:'#5BAA3A', width:2.4}, hoverinfo:'skip'},
  {type:'scatter', mode:'markers', x: squareValue, y: squareDepth,
   marker:{symbol:'square', size:31, color:'#FF0000', line:{color:'#3a1010', width:1.5}},
   hoverinfo:'skip', cliponaxis:false}
];

const fontFam = 'Lato, "Open Sans", sans-serif';
const layout = {
  width: 1441, height: 1394,
  margin: {l: 112, r: 12, t: 55, b: 2, pad: 0},
  paper_bgcolor: '#ffffff', plot_bgcolor: '#ffffff',
  showlegend: false,
  font: {family: fontFam, color: '#595959', size: 20},
  xaxis: {
    side: 'top', range: [0, 10], tickvals: xTickVals, ticktext: xTickVals.map(String),
    showgrid: true, gridcolor: '#D9D9D9', gridwidth: 1.6,
    showline: true, linecolor: '#BFBFBF', linewidth: 2,
    ticks: 'outside', ticklen: 8, tickcolor: '#BFBFBF', tickwidth: 1.6,
    ticklabelstandoff: 8,
    minor: {dtick: 0.2, ticks: 'inside', ticklen: 5, tickcolor: '#BFBFBF', tickwidth: 1.5, showgrid: false},
    zeroline: false, tickfont: {size: 20, color: '#595959'}
  },
  yaxis: {
    range: [25, 0], tickvals: yTickVals, tickformat: '.1f',
    showgrid: true, gridcolor: '#D9D9D9', gridwidth: 1.6,
    showline: true, linecolor: '#BFBFBF', linewidth: 2,
    ticks: '', ticklabelstandoff: 20, ticklabeloverflow: 'allow',
    zeroline: false, tickfont: {size: 20, color: '#595959'}
  },
  annotations: [{
    text: 'Dybde (m)', textangle: -90, showarrow: false,
    xref: 'paper', yref: 'paper', x: 0, y: 0.5288, xshift: -87,
    xanchor: 'center', yanchor: 'middle',
    font: {size: 24, color: '#595959', family: fontFam}
  }]
};

Plotly.newPlot('chart', traces, layout, {staticPlot: true, displayModeBar: false});
</script>
</body>
</html>
